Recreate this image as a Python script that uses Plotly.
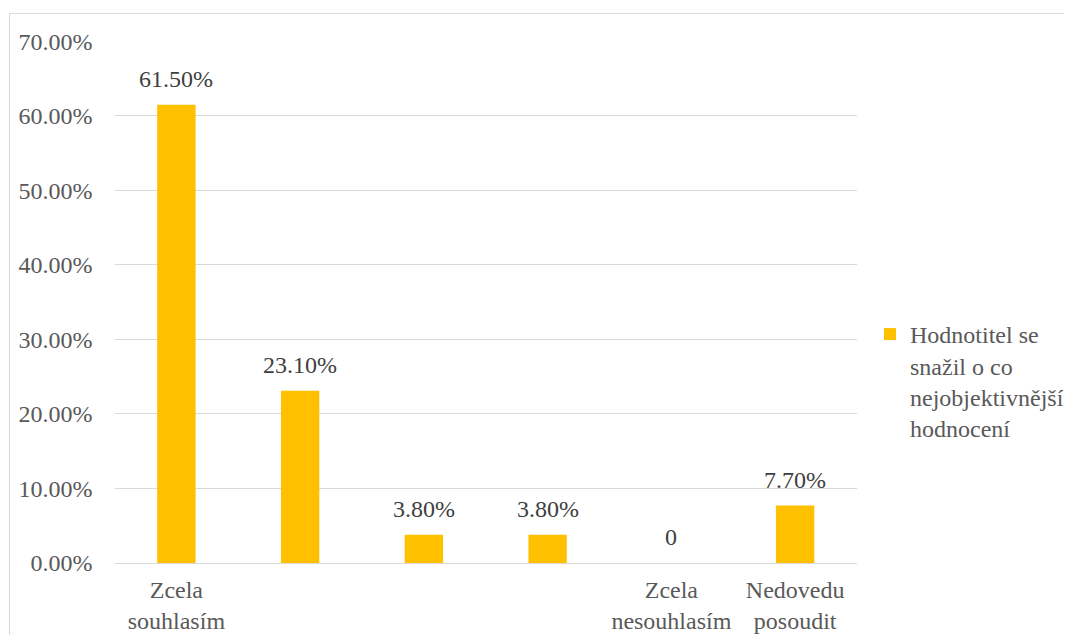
import plotly.graph_objects as go

categories = ["Zcela<br>souhlasím", "  ", "   ", "    ", "Zcela<br>nesouhlasím", "Nedovedu<br>posoudit"]
values = [61.5, 23.1, 3.8, 3.8, 0, 7.7]
labels = ["61.50%", "23.10%", "3.80%", "3.80%", "0", "7.70%"]
series_name = "Hodnotitel se<br>snažil o co<br>nejobjektivnější<br>hodnocení"
tick_vals = [0, 10, 20, 30, 40, 50, 60, 70]
tick_text = ["0.00%", "10.00%", "20.00%", "30.00%", "40.00%", "50.00%", "60.00%", "70.00%"]

# the page body adds an 8px offset, so the figure is 8px smaller than the window on each side
OFF = 8
W, H = 1072 - OFF, 635 - OFF
FONT = "Liberation Serif"
FS = 24


def px_x(s):
    return (s - OFF) / W


def px_y(s):
    return 1 - (s - OFF) / H


fig = go.Figure()
fig.add_trace(go.Bar(
    x=categories, y=values, name=series_name,
    marker=dict(color="#FFC000", line=dict(width=0)),
    showlegend=True,
))

for c, v, t in zip(categories, values, labels):
    fig.add_annotation(x=c, y=v, text=t, showarrow=False, yanchor="middle", yshift=26,
                       font=dict(family=FONT, size=FS, color="#404040"))

fig.add_shape(type="rect", xref="paper", yref="paper",
              x0=px_x(9.5), x1=1.05, y0=-0.05, y1=px_y(13.5),
              line=dict(color="#d9d9d9", width=1), fillcolor="rgba(0,0,0,0)", layer="below")

fig.update_layout(
    width=W, height=H,
    margin=dict(l=0, r=0, t=0, b=0, autoexpand=False),
    paper_bgcolor="white", plot_bgcolor="white",
    bargap=0.69,
    font=dict(family=FONT, size=FS, color="#595959"),
    xaxis=dict(domain=[px_x(114.5), px_x(857)], showgrid=False, showline=False, zeroline=False,
               automargin=False, ticks="", ticklabelstandoff=10,
               tickfont=dict(family=FONT, size=FS, color="#595959"), fixedrange=True),
    yaxis=dict(domain=[px_y(563), px_y(41)], range=[0, 70.05], tickvals=tick_vals, ticktext=tick_text,
               showgrid=True, gridcolor="#d9d9d9", gridwidth=1.2, zeroline=True, zerolinecolor="#d9d9d9",
               zerolinewidth=1.2, showline=False, ticks="", ticklabelstandoff=21, automargin=False,
               tickfont=dict(family=FONT, size=FS, color="#595959"), fixedrange=True),
    legend=dict(x=px_x(870), y=px_y(381), xanchor="left", yanchor="middle", valign="top",
                font=dict(family=FONT, size=FS, color="#595959"), bgcolor="rgba(0,0,0,0)"),
)

fig.write_html("out.html")
